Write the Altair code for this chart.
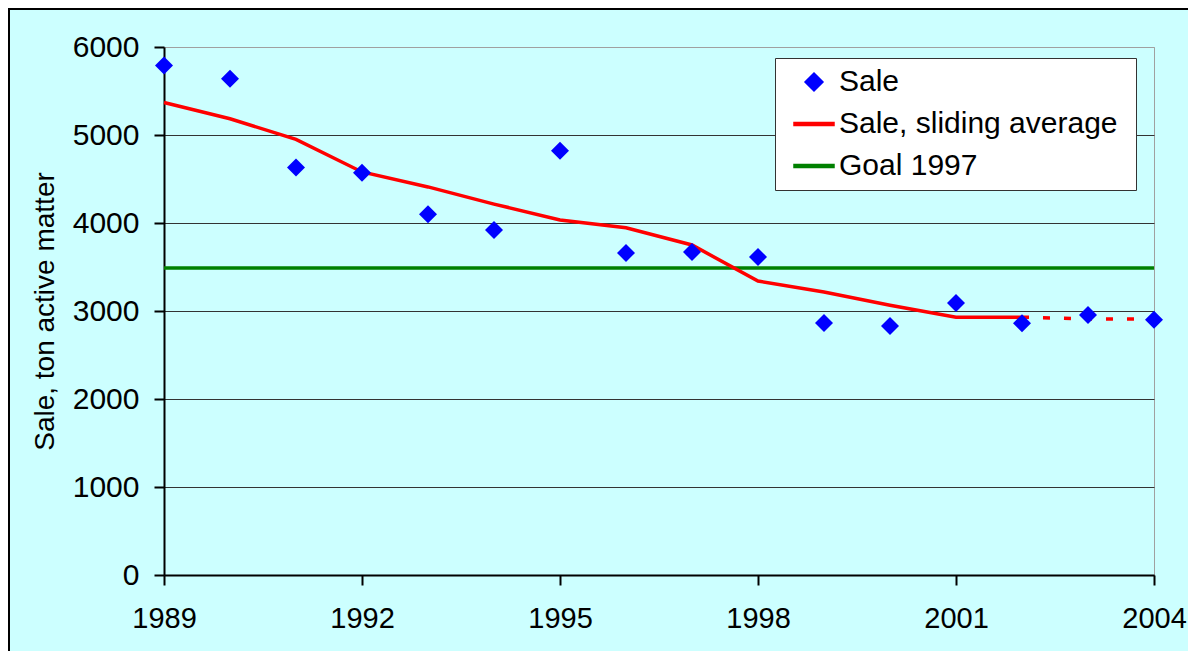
import altair as alt
import pandas as pd

# ---- data ----
years = list(range(1989, 2005))
sale = [5790, 5640, 4630, 4570, 4100, 3920, 4820, 3660, 3670, 3615,
        2865, 2830, 3090, 2860, 2955, 2900]

avg_years = list(range(1989, 2003))
avg_values = [5370, 5185, 4950, 4580, 4410, 4215, 4035, 3945, 3750, 3340,
              3215, 3065, 2930, 2930]

avg_dash_years = [2002, 2003, 2004]
avg_dash_values = [2930, 2910, 2910]

goal_years = [1989, 2004]
goal_values = [3490, 3490]

series_names = ["Sale", "Sale, sliding average", "Goal 1997"]
series_colors = ["#0000FF", "#FF0000", "#008000"]
x_ticks = [1989, 1992, 1995, 1998, 2001, 2004]
y_ticks = [0, 1000, 2000, 3000, 4000, 5000, 6000]

df_sale = pd.DataFrame({"year": years, "value": sale, "series": series_names[0]})
df_avg = pd.DataFrame({"year": avg_years, "value": avg_values, "series": series_names[1]})
df_dash = pd.DataFrame({"year": avg_dash_years, "value": avg_dash_values, "series": series_names[1]})
df_goal = pd.DataFrame({"year": goal_years, "value": goal_values, "series": series_names[2]})

FONT = "Liberation Sans"
DIAMOND = "M0,-0.87M0,0.87M0,-0.45L0.45,0L0,0.45L-0.45,0Z"
LINE = "M0,-0.87M0,0.87M-1,-0.08L1,-0.08L1,0.08L-1,0.08Z"

legend = alt.Legend(
    title=None, orient="none", legendX=611, legendY=11,
    fillColor="white", strokeColor="#333333", padding=3, rowPadding=0,
    symbolSize=1600, symbolOffset=15, labelOffset=4, labelLimit=500,
    labelFontSize=30, labelFont=FONT, labelColor="black",
    labelExpr="datum.label + '\u2002\u200b'",
)

color = alt.Color("series:N", scale=alt.Scale(domain=series_names, range=series_colors), legend=legend)
shape = alt.Shape("series:N", scale=alt.Scale(domain=series_names, range=[DIAMOND, LINE, LINE]), legend=legend)

x = alt.X("year:Q", scale=alt.Scale(domain=[1989, 2004], nice=False, zero=False),
          axis=alt.Axis(values=x_ticks, format="d", title=None, grid=False,
                        tickSize=10, tickWidth=2, tickColor="black",
                        domainColor="black", domainWidth=2,
                        labelFlush=False, labelOverlap=False, labelBound=False,
                        labelPadding=19, labelFontSize=29, labelFont=FONT, labelColor="black"))
y = alt.Y("value:Q", scale=alt.Scale(domain=[0, 6000], nice=False),
          axis=alt.Axis(values=y_ticks, format="d", title="Sale, ton active matter",
                        grid=True,
                        gridColor={"condition": {"test": "datum.value == 6000", "value": "#A0A0A0"}, "value": "#333333"},
                        gridWidth=1,
                        tickSize=10, tickWidth=2, tickColor="black",
                        domainColor="black", domainWidth=2,
                        labelFlush=False, labelOverlap=False,
                        labelPadding=15, labelFontSize=30, labelFont=FONT, labelColor="black",
                        titleFontSize=28, titleFont=FONT, titleFontWeight="normal",
                        titleColor="black", titlePadding=13))

avg_line = alt.Chart(df_avg).mark_line(strokeWidth=3.5).encode(x=x, y=y, color=color)
dash_line = alt.Chart(df_dash).mark_line(strokeWidth=3.5, strokeDash=[7, 14]).encode(x=x, y=y, color=color)
goal_line = alt.Chart(df_goal).mark_line(strokeWidth=3.5).encode(x=x, y=y, color=color)
points = alt.Chart(df_sale).mark_point(filled=True, size=1600, opacity=1).encode(
    x=x, y=y, color=color, shape=shape)

frame = alt.Chart(alt.Data(values=[{}])).mark_rect(
    fillOpacity=0, stroke="black", strokeWidth=2, clip=False
).encode(x=alt.value(-155), x2=alt.value(1060), y=alt.value(-38), y2=alt.value(640))

chart = alt.layer(goal_line, avg_line, dash_line, points, frame).properties(
    width=990, height=528,
    autosize=alt.AutoSizeParams(type="none"),
    padding={"left": 156, "top": 39, "right": 34, "bottom": 76},
    background="#CCFFFF",
).configure_view(stroke="#A0A0A0", strokeWidth=1)

chart.save("out.html", embed_options={"renderer": "svg", "actions": False})
